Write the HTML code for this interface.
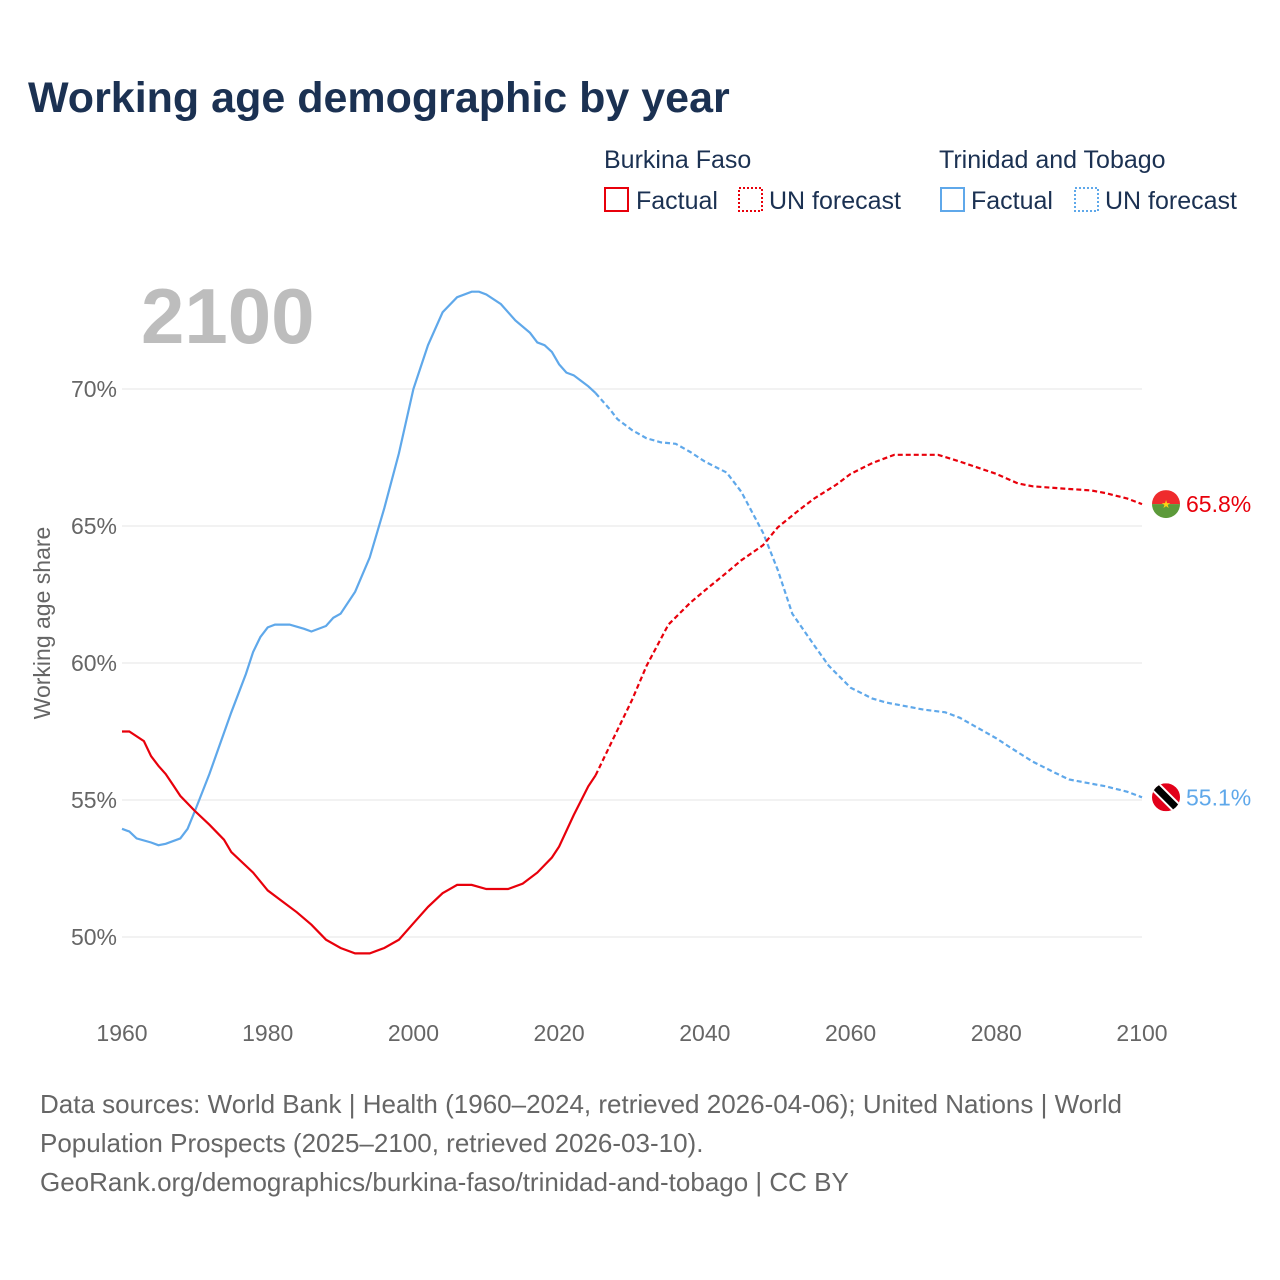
<!DOCTYPE html>
<html><head><meta charset="utf-8"><style>
body{margin:0;background:#fff;font-family:"Liberation Sans",sans-serif;}
#wrap{position:relative;width:1280px;height:1280px;overflow:hidden;}
</style></head><body>
<div id="wrap">
<svg id="svg" width="1280" height="1280" style="position:absolute;left:0;top:0">
<text x="28" y="112" font-size="43" font-weight="bold" fill="#1b3152">Working age demographic by year</text>
<g font-size="25" fill="#1b3152">
<text x="604" y="168">Burkina Faso</text>
<text x="939" y="168">Trinidad and Tobago</text>
<g><rect x="605" y="188" width="23" height="23" fill="none" stroke="#e8000b" stroke-width="2"/><text x="636" y="209">Factual</text></g>
<g><rect x="739" y="188" width="23" height="23" fill="none" stroke="#e8000b" stroke-width="2" stroke-dasharray="2,2"/><text x="769" y="209">UN forecast</text></g>
<g><rect x="941" y="188" width="23" height="23" fill="none" stroke="#5fa8ea" stroke-width="2"/><text x="971" y="209">Factual</text></g>
<g><rect x="1075" y="188" width="23" height="23" fill="none" stroke="#5fa8ea" stroke-width="2" stroke-dasharray="2,2"/><text x="1105" y="209">UN forecast</text></g>
</g>
<text x="141" y="343" font-size="78" font-weight="bold" fill="#bdbdbd">2100</text>
<g id="grid"></g><g id="series"></g>
<text transform="translate(50,623) rotate(-90)" text-anchor="middle" font-size="23" fill="#666">Working age share</text>
<g font-size="26" fill="#666">
<text x="40" y="1113">Data sources: World Bank | Health (1960–2024, retrieved 2026-04-06); United Nations | World</text>
<text x="40" y="1152">Population Prospects (2025–2100, retrieved 2026-03-10).</text>
<text x="40" y="1191">GeoRank.org/demographics/burkina-faso/trinidad-and-tobago | CC BY</text>
</g>
</svg></div>
<script>
const yTicks=[50,55,60,65,70];
const xTicks=[1960,1980,2000,2020,2040,2060,2080,2100];
const bfFactYears=[1960,1961,1963,1964,1965,1966,1967,1968,1970,1972,1974,1975,1978,1980,1982,1984,1986,1988,1990,1992,1994,1996,1998,2000,2002,2004,2006,2008,2010,2012,2013,2015,2017,2019,2020,2022,2024,2025];
const bfFactVals=[57.5,57.5,57.15,56.6,56.25,55.95,55.55,55.15,54.6,54.1,53.55,53.1,52.35,51.7,51.3,50.9,50.45,49.9,49.6,49.4,49.4,49.6,49.9,50.5,51.1,51.6,51.9,51.9,51.75,51.75,51.75,51.95,52.35,52.9,53.3,54.45,55.5,55.9];
const bfFcYears=[2025,2027,2030,2032,2035,2038,2040,2043,2045,2048,2050,2053,2055,2058,2060,2063,2066,2070,2072,2075,2080,2083,2085,2090,2093,2095,2098,2100];
const bfFcVals=[55.9,57.0,58.65,59.9,61.4,62.2,62.65,63.3,63.75,64.3,64.95,65.6,66.0,66.5,66.9,67.3,67.6,67.6,67.6,67.35,66.9,66.55,66.45,66.35,66.3,66.2,66.0,65.8];
const ttFactYears=[1960,1961,1962,1964,1965,1966,1968,1969,1970,1972,1973,1975,1977,1978,1979,1980,1981,1983,1985,1986,1988,1989,1990,1992,1994,1996,1998,2000,2002,2004,2006,2008,2009,2010,2012,2014,2016,2017,2018,2019,2020,2021,2022,2024,2025];
const ttFactVals=[53.95,53.85,53.6,53.45,53.35,53.4,53.6,53.95,54.6,55.95,56.7,58.2,59.6,60.4,60.95,61.3,61.4,61.4,61.25,61.15,61.35,61.65,61.8,62.6,63.85,65.65,67.65,70.0,71.6,72.8,73.35,73.55,73.55,73.45,73.1,72.5,72.05,71.7,71.6,71.35,70.9,70.6,70.5,70.1,69.85];
const ttFcYears=[2025,2027,2028,2030,2032,2034,2036,2038,2040,2043,2045,2048,2050,2052,2055,2057,2060,2063,2065,2068,2070,2073,2075,2078,2080,2082,2085,2088,2090,2093,2095,2098,2100];
const ttFcVals=[69.85,69.25,68.9,68.5,68.2,68.05,68.0,67.7,67.35,66.95,66.25,64.75,63.4,61.8,60.65,59.9,59.1,58.7,58.55,58.4,58.3,58.2,58.0,57.55,57.25,56.9,56.4,56.0,55.75,55.6,55.5,55.3,55.1];

const NS="http://www.w3.org/2000/svg";
const x=v=>122+(v-1960)*(1020/140);
const y=v=>389+(70-v)*27.4;
const grid=document.getElementById('grid'),ser=document.getElementById('series');
function mk(t,a,p){const e=document.createElementNS(NS,t);for(const k in a)e.setAttribute(k,a[k]);p.appendChild(e);return e;}
yTicks.forEach(t=>{
 const l=mk('line',{x1:122,x2:1142,y1:y(t),y2:y(t),stroke:'#e6e6e6','stroke-width':1},grid);
 
 
 const tx=mk('text',{x:117,y:y(t)+8,'text-anchor':'end','font-size':23,fill:'#666'},grid);tx.textContent=t+'%';
 
 
});
xTicks.forEach(t=>{
 const tx=mk('text',{x:x(t),y:1041,'text-anchor':'middle','font-size':23,fill:'#666'},grid);tx.textContent=t;
 
 
});
function line(ys,vs,col,dash,name){
 const p=mk('path',{d:ys.map((yr,i)=>(i?'L':'M')+x(yr).toFixed(1)+','+y(vs[i]).toFixed(1)).join(''),fill:'none',stroke:col,'stroke-width':2.2},ser);
 if(dash)p.setAttribute('stroke-dasharray','5,3');
 
 
}
line(ttFactYears,ttFactVals,'#5fa8ea',false,'trinidad-factual-line');
line(ttFcYears,ttFcVals,'#5fa8ea',true,'trinidad-forecast-line');
line(bfFactYears,bfFactVals,'#e8000b',false,'burkina-factual-line');
line(bfFcYears,bfFcVals,'#e8000b',true,'burkina-forecast-line');
const bfEnd=bfFcVals[bfFcVals.length-1],ttEnd=ttFcVals[ttFcVals.length-1];
const fx=1166;
const defs=mk('defs',{},ser);
const c1=mk('clipPath',{id:'cbf'},defs);mk('circle',{cx:fx,cy:y(bfEnd),r:14},c1);
const c2=mk('clipPath',{id:'ctt'},defs);mk('circle',{cx:fx,cy:y(ttEnd),r:14},c2);
const g1=mk('g',{'clip-path':'url(#cbf)'},ser);


mk('rect',{x:fx-14,y:y(bfEnd)-14,width:28,height:14,fill:'#ef2b2d'},g1);
mk('rect',{x:fx-14,y:y(bfEnd),width:28,height:14,fill:'#5c9a3a'},g1);
const st=mk('text',{x:fx,y:y(bfEnd)+4,'text-anchor':'middle','font-size':11,fill:'#fcd116'},g1);st.textContent='★';
const g2=mk('g',{'clip-path':'url(#ctt)'},ser);


mk('rect',{x:fx-14,y:y(ttEnd)-14,width:28,height:28,fill:'#e2001a'},g2);
mk('line',{x1:fx-16,y1:y(ttEnd)-16,x2:fx+16,y2:y(ttEnd)+16,stroke:'#fff','stroke-width':11},g2);
mk('line',{x1:fx-16,y1:y(ttEnd)-16,x2:fx+16,y2:y(ttEnd)+16,stroke:'#000','stroke-width':7},g2);
const l1=mk('text',{x:1186,y:y(bfEnd)+8,'font-size':23,fill:'#e8000b'},ser);l1.textContent=bfEnd.toFixed(1)+'%';


const l2=mk('text',{x:1186,y:y(ttEnd)+8,'font-size':23,fill:'#5fa8ea'},ser);l2.textContent=ttEnd.toFixed(1)+'%';


</script>
</body></html>
